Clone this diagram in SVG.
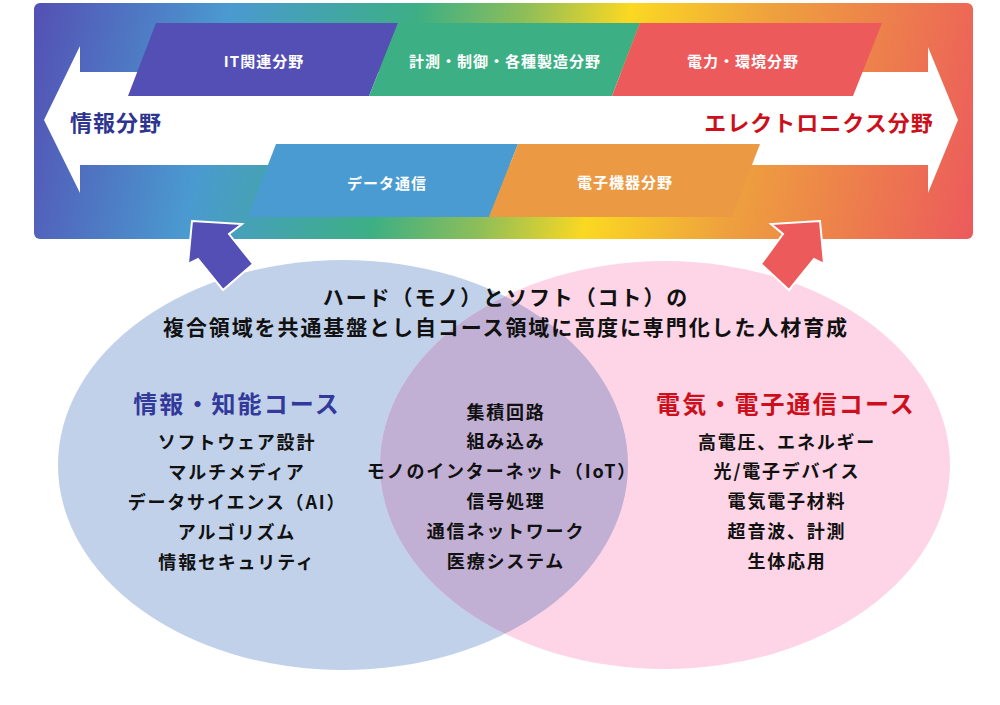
<svg xmlns="http://www.w3.org/2000/svg" width="1000" height="705" viewBox="0 0 1000 705">
  <defs>
    <linearGradient id="bandGrad" gradientUnits="userSpaceOnUse" x1="30" y1="21" x2="976" y2="221">
      <stop offset="0" stop-color="#5450b4"/>
      <stop offset="0.2" stop-color="#4a9ad0"/>
      <stop offset="0.39" stop-color="#3daf85"/>
      <stop offset="0.5" stop-color="#8fbe58"/>
      <stop offset="0.605" stop-color="#fbd822"/>
      <stop offset="0.75" stop-color="#eea03e"/>
      <stop offset="1" stop-color="#ec5a5c"/>
    </linearGradient>
    <clipPath id="pinkClip">
      <ellipse cx="665" cy="465" rx="285" ry="204"/>
    </clipPath>
    <style>
      .jp { font-family: "Noto Sans CJK JP", "Noto Sans", sans-serif; font-weight: 700; dominant-baseline: central; text-anchor: middle; }
      .band { font-size: 15px; fill: #ffffff; letter-spacing: 1px; }
      .side { font-size: 22px; letter-spacing: 1px; }
      .head { font-size: 21px; fill: #111111; letter-spacing: 1.9px; }
      .course { font-size: 24px; letter-spacing: 2.1px; }
      .item { font-size: 18px; fill: #111111; letter-spacing: 1.8px; }
      .arrow { stroke: #ffffff; stroke-width: 2; stroke-linejoin: miter; }
    </style>
  </defs>

  <!-- Venn ellipses -->
  <g id="venn">
    <ellipse id="ellipse-info" cx="343" cy="465" rx="285" ry="205" fill="#c1d1ea"/>
    <ellipse id="ellipse-elec" cx="665" cy="465" rx="285" ry="204" fill="#fdd5e6"/>
    <ellipse id="overlap" cx="343" cy="465" rx="285" ry="205" fill="#c1afd4" clip-path="url(#pinkClip)"/>
  </g>

  <!-- Top band -->
  <g id="band">
    <rect x="34" y="3" width="939" height="236" rx="6" fill="url(#bandGrad)"/>
    <polygon id="double-arrow" points="44,120 80,46 80,72 928,72 928,47 958,120 928,193 928,165 80,165 80,193" fill="#ffffff"/>
  </g>

  <g id="field-it">
    <polygon points="156,23 398,23 369,96 128,96" fill="#544fb4"/>
    <text class="jp band" x="264" y="60">IT関連分野</text>
  </g>
  <g id="field-measure">
    <polygon points="398,23 640,23 612,96 369,96" fill="#3daf84"/>
    <text class="jp band" x="505" y="60">計測・制御・各種製造分野</text>
  </g>
  <g id="field-power">
    <polygon points="640,23 882,23 853,96 612,96" fill="#ec5a5c"/>
    <text class="jp band" x="743" y="60">電力・環境分野</text>
  </g>
  <g id="field-data">
    <polygon points="276,144 518,144 489,217 248,217" fill="#4a9bd2"/>
    <text class="jp band" x="387" y="182">データ通信</text>
  </g>
  <g id="field-device">
    <polygon points="518,144 760,144 732,217 489,217" fill="#eb9a43"/>
    <text class="jp band" x="625" y="181">電子機器分野</text>
  </g>

  <g id="label-info-field">
    <text class="jp side" x="116" y="121" fill="#2e3590">情報分野</text>
  </g>
  <g id="label-elec-field">
    <text class="jp side" x="819" y="121" fill="#cc0f1a">エレクトロニクス分野</text>
  </g>

  <!-- Connectors -->
  <g id="connectors">
    <polygon class="arrow" points="192,221 242,224 229,234 253,264 223,290 198,259 188,264" fill="#544fb4"/>
    <polygon class="arrow" points="820,221 771,224 783,234 761,264 789,290 814,259 824,264" fill="#ec5a5c"/>
  </g>

  <g id="headline">
    <text class="jp head" x="506" y="296">ハード（モノ）とソフト（コト）の</text>
    <text class="jp head" x="506" y="326">複合領域を共通基盤とし自コース領域に高度に専門化した人材育成</text>
  </g>

  <g id="course-info">
    <text class="jp course" x="237" y="402" fill="#33399a">情報・知能コース</text>
    <text class="jp item" x="237" y="441">ソフトウェア設計</text>
    <text class="jp item" x="237" y="471">マルチメディア</text>
    <text class="jp item" x="237" y="501">データサイエンス（AI）</text>
    <text class="jp item" x="237" y="531">アルゴリズム</text>
    <text class="jp item" x="237" y="561">情報セキュリティ</text>
  </g>

  <g id="common">
    <text class="jp item" x="506" y="411">集積回路</text>
    <text class="jp item" x="506" y="440">組み込み</text>
    <text class="jp item" x="502" y="470">モノのインターネット（IoT）</text>
    <text class="jp item" x="506" y="500">信号処理</text>
    <text class="jp item" x="506" y="530">通信ネットワーク</text>
    <text class="jp item" x="506" y="560">医療システム</text>
  </g>

  <g id="course-elec">
    <text class="jp course" x="786" y="402" fill="#cc0f1a">電気・電子通信コース</text>
    <text class="jp item" x="787" y="441">高電圧、エネルギー</text>
    <text class="jp item" x="787" y="470">光/電子デバイス</text>
    <text class="jp item" x="787" y="500">電気電子材料</text>
    <text class="jp item" x="787" y="530">超音波、計測</text>
    <text class="jp item" x="787" y="560">生体応用</text>
  </g>
</svg>
